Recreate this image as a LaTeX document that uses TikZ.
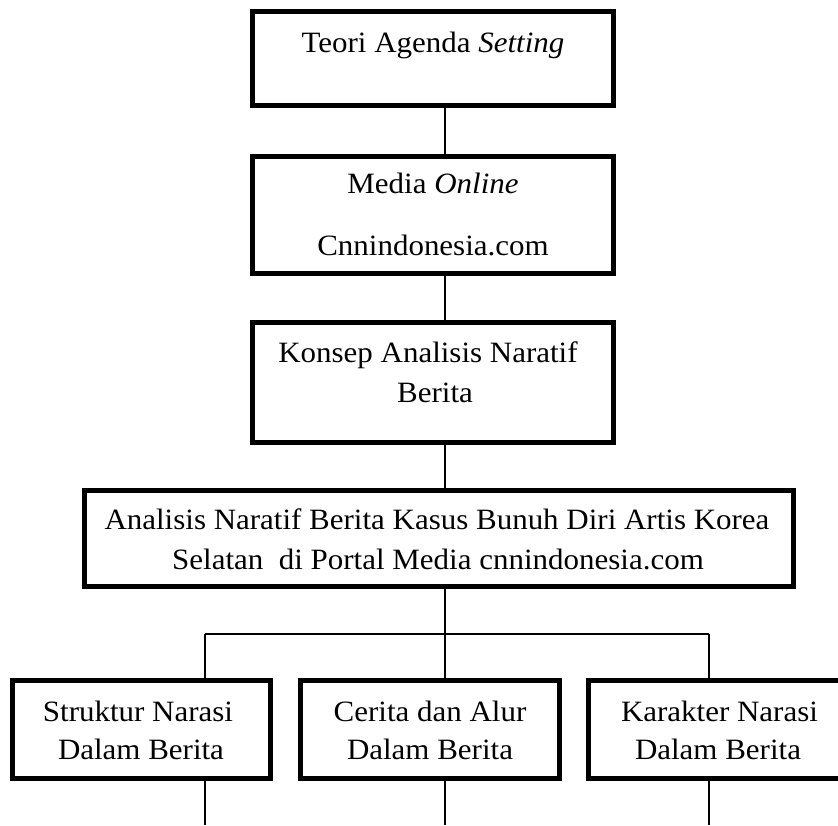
\documentclass[tikz,border=0pt]{standalone}
\usepackage{fontspec}
\setmainfont{Liberation Serif}[FakeStretch=1.05]
\usetikzlibrary{backgrounds}
\begin{document}
\begin{tikzpicture}[x=1pt,y=-1pt,
  box/.style={draw=black,line width=5pt,fill=white,inner sep=0pt,outer sep=0pt,rectangle},
  conn/.style={draw=black,line width=1.3pt},
  txt/.style={anchor=base,inner sep=0pt,font=\fontsize{29.5}{29.5}\selectfont}]
\useasboundingbox (0,0) rectangle (838,825);
% junction coordinates
\coordinate (j) at (445,634);
\coordinate (ja) at (205,634);
\coordinate (jc) at (709,634);
\coordinate (ea) at (205,825);
\coordinate (eb) at (445,825);
\coordinate (ec) at (709,825);
% boxes
\path (433,58.5) node[box,minimum width=361pt,minimum height=94pt] (b1) {};
\path (433,214.5) node[box,minimum width=361pt,minimum height=117pt] (b2) {};
\path (433,382.5) node[box,minimum width=361pt,minimum height=120pt] (b3) {};
\path (439,538.5) node[box,minimum width=709pt,minimum height=96pt] (b4) {};
\path (141.5,729.5) node[box,minimum width=258pt,minimum height=98pt] (ba) {};
\path (430,729.5) node[box,minimum width=259pt,minimum height=98pt] (bb) {};
\path (719,729.5) node[box,minimum width=261pt,minimum height=98pt] (bc) {};
% connectors
\begin{scope}[on background layer]
\draw[conn] (b1.south -| j) -- (b2.north -| j);
\draw[conn] (b2.south -| j) -- (b3.north -| j);
\draw[conn] (b3.south -| j) -- (b4.north -| j);
\draw[conn] (b4.south -| j) -- (j);
\draw[conn] (ja) -- (jc);
\draw[conn] (ja) -- (ba.north -| ja);
\draw[conn] (j) -- (bb.north -| j);
\draw[conn] (jc) -- (bc.north -| jc);
\draw[conn] (ba.south -| ea) -- (ea);
\draw[conn] (bb.south -| eb) -- (eb);
\draw[conn] (bc.south -| ec) -- (ec);
\end{scope}
% texts
\node[txt] (t1) at (433,52) {Teori Agenda \textit{Setting}};
\node[txt] (t2a) at (433,193) {Media \textit{Online}};
\node[txt] (t2b) at (433,255) {Cnnindonesia.com};
\node[txt] (t3a) at (428,362) {Konsep Analisis Naratif};
\node[txt] (t3b) at (435,402) {Berita};
\node[txt] (t4a) at (437,529) {Analisis Naratif Berita Kasus Bunuh Diri Artis Korea};
\node[txt] (t4b) at (438,569) {Selatan\ \ di Portal Media cnnindonesia.com};
\node[txt] (tao) at (138,721) {Struktur Narasi};
\node[txt] (tat) at (141,759) {Dalam Berita};
\node[txt] (tbo) at (430,721) {Cerita dan Alur};
\node[txt] (tbt) at (430,759) {Dalam Berita};
\node[txt] (tco) at (719.5,721) {Karakter Narasi};
\node[txt] (tct) at (718,759) {Dalam Berita};
\end{tikzpicture}
\end{document}
